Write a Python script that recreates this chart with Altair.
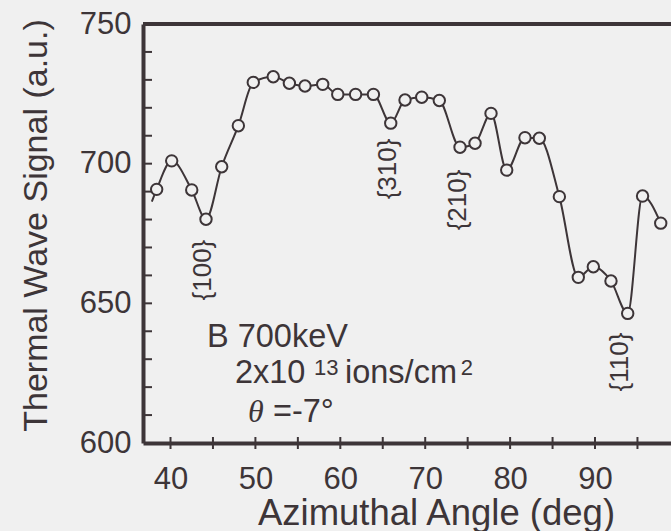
import altair as alt
import pandas as pd

# ---- data ----
angle = [38.37, 40.14, 42.5, 44.18, 46.03, 47.99, 49.75, 52.1, 54.0, 55.84,
         57.93, 59.7, 61.8, 63.9, 65.94, 67.62, 69.59, 71.66, 74.1, 75.87,
         77.75, 79.6, 81.75, 83.44, 85.8, 88.03, 89.8, 91.88, 93.85, 95.6, 97.74]
signal = [690.8, 701.0, 690.6, 680.1, 698.9, 713.6, 729.1, 731.1, 728.8, 727.8,
          728.4, 724.8, 724.8, 724.8, 714.5, 722.8, 723.8, 722.6, 705.9, 707.3,
          718.0, 697.7, 709.3, 709.1, 688.2, 659.3, 663.1, 658.0, 646.4, 688.4, 678.7]
lead_angle = [37.8]
lead_signal = [686.4]

x_label_values = [40, 50, 60, 70, 80, 90]
x_tick_values = [40, 45, 50, 55, 60, 65, 70, 75, 80, 85, 90, 95]
y_label_values = [600, 650, 700, 750]
y_tick_values = [610, 620, 630, 640, 650, 660, 670, 680, 690, 700,
                 710, 720, 730, 740]

plane_labels = ["{100}", "{310}", "{210}", "{110}"]
plane_x = [43.83, 65.6, 73.86, 92.94]
plane_y = [661.9, 698.1, 687.0, 629.0]

main_text = ["B 700keV", "2x10", "ions/cm", "=-7°"]
main_x = [44.3, 47.59, 60.55, 52.07]
main_y = [634.4, 621.5, 621.5, 607.5]
sup_text = ["13", "2"]
sup_x = [56.9, 74.2]
sup_y = [624.3, 624.3]
theta_text = ["θ"]
theta_x = [49.13]
theta_y = [607.5]

INK = "#3d3538"
BG = "#f0f0f0"
FONT = "Liberation Sans"
W, H = 528, 419

xs = alt.Scale(domain=[36.76, 98.95], nice=False, zero=False)
ys = alt.Scale(domain=[600, 750], nice=False, zero=False)

pts = pd.DataFrame({"angle": angle, "signal": signal})
line_df = pd.DataFrame({"angle": lead_angle + angle, "signal": lead_signal + signal})

x_axis = alt.Axis(values=x_label_values, title="Azimuthal Angle (deg)", ticks=False,
                  tickSize=0, grid=False, domainColor=INK, domainWidth=4,
                  labelFont=FONT, labelFontSize=31, labelColor=INK, labelPadding=21,
                  labelFlush=False, labelOverlap=False, format="d",
                  titleFont=FONT, titleFontSize=36.5, titleFontWeight="normal",
                  titleColor=INK, titleX=293, titleY=81, titleBaseline="alphabetic",
                  titleAlign="center")
y_axis = alt.Axis(values=y_label_values, title="Thermal Wave Signal (a.u.)", ticks=False,
                  tickSize=0, grid=False, domainColor=INK, domainWidth=4,
                  labelFont=FONT, labelFontSize=31, labelColor=INK, labelPadding=12,
                  labelFlush=False, labelOverlap=False, format="d",
                  titleFont=FONT, titleFontSize=34, titleFontWeight="normal",
                  titleColor=INK, titleAngle=270, titleX=-97, titleY=201,
                  titleBaseline="alphabetic", titleAlign="center")

line = alt.Chart(line_df).mark_line(interpolate="monotone", color=INK, strokeWidth=2).encode(
    x=alt.X("angle:Q", scale=xs, axis=x_axis),
    y=alt.Y("signal:Q", scale=ys, axis=y_axis),
)

points = alt.Chart(pts).mark_point(shape="circle", fill=BG, stroke=INK, strokeWidth=2,
                                   size=130, opacity=1, fillOpacity=1).encode(
    x=alt.X("angle:Q", scale=xs),
    y=alt.Y("signal:Q", scale=ys),
)

top_border = alt.Chart(pd.DataFrame({"v": [750]})).mark_rule(color=INK, strokeWidth=4).encode(
    y=alt.Y("v:Q", scale=ys)
)

x_ticks = alt.Chart(pd.DataFrame({"t": x_tick_values})).mark_rule(color=INK, strokeWidth=2).encode(
    x=alt.X("t:Q", scale=xs),
    y=alt.value(H - 6),
    y2=alt.value(H + 6),
)

y_ticks = alt.Chart(pd.DataFrame({"v": y_tick_values})).mark_rule(color=INK, strokeWidth=2).encode(
    y=alt.Y("v:Q", scale=ys),
    x=alt.value(0),
    x2=alt.value(9),
)

planes = alt.Chart(pd.DataFrame({"label": plane_labels, "x": plane_x, "y": plane_y})).mark_text(
    angle=270, align="center", baseline="middle", font=FONT, fontSize=26, color=INK
).encode(
    x=alt.X("x:Q", scale=xs),
    y=alt.Y("y:Q", scale=ys),
    text="label:N",
)

main = alt.Chart(pd.DataFrame({"t": main_text, "x": main_x, "y": main_y})).mark_text(
    align="left", baseline="alphabetic", font=FONT, fontSize=32.5, color=INK
).encode(
    x=alt.X("x:Q", scale=xs),
    y=alt.Y("y:Q", scale=ys),
    text="t:N",
)

sup = alt.Chart(pd.DataFrame({"t": sup_text, "x": sup_x, "y": sup_y})).mark_text(
    align="left", baseline="alphabetic", font=FONT, fontSize=22, color=INK
).encode(
    x=alt.X("x:Q", scale=xs),
    y=alt.Y("y:Q", scale=ys),
    text="t:N",
)

theta = alt.Chart(pd.DataFrame({"t": theta_text, "x": theta_x, "y": theta_y})).mark_text(
    align="left", baseline="alphabetic", font="Liberation Serif", fontStyle="italic",
    fontSize=32, color=INK
).encode(
    x=alt.X("x:Q", scale=xs),
    y=alt.Y("y:Q", scale=ys),
    text="t:N",
)

chart = alt.layer(line, top_border, y_ticks, x_ticks, points, planes, main, sup, theta).properties(
    width=W, height=H,
    padding={"left": 143, "top": 24, "right": 0, "bottom": 88},
    autosize=alt.AutoSizeParams(type="none"),
    background=BG,
).configure_view(stroke=None)

chart.save("out.html", embed_options={"renderer": "svg", "actions": False})
